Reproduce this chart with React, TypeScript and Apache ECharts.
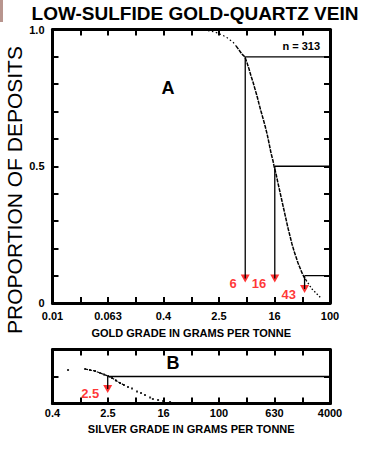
import { useEffect, useRef } from 'react';
import * as echarts from 'echarts';

// ---- data ----
const goldGrade = [
  1.34, 1.58, 1.86, 2.13, 2.43, 2.77, 3.17, 3.62, 4.0, 4.42, 4.88, 5.39, 5.96, 6.37, 6.8, 7.27,
  7.76, 8.3, 8.87, 9.48, 10.1, 10.8, 11.6, 12.4, 13.2, 14.1, 15.1, 15.6, 16.7, 17.8, 19.0, 20.3,
  21.7, 23.2, 24.8, 26.5, 28.3, 30.3, 32.4, 34.6, 37.0, 39.5, 42.2, 45.1, 48.2, 51.5, 55.1, 60.8,
  67.1, 74.1,
];
const goldProp = [
  0.999, 0.998, 0.995, 0.991, 0.987, 0.98, 0.973, 0.962, 0.954, 0.94, 0.925, 0.91, 0.899, 0.878,
  0.856, 0.83, 0.808, 0.782, 0.757, 0.728, 0.702, 0.676, 0.647, 0.618, 0.585, 0.549, 0.519, 0.501,
  0.471, 0.438, 0.406, 0.373, 0.34, 0.307, 0.274, 0.245, 0.216, 0.19, 0.168, 0.146, 0.128, 0.11,
  0.095, 0.084, 0.073, 0.062, 0.051, 0.04, 0.029, 0.018,
];
const silverGrade = [
  0.67, 1.18, 1.39, 1.64, 1.94, 2.21, 2.52, 2.88, 3.29, 3.76, 4.29, 4.9, 5.6, 6.61, 7.55, 8.61,
  10.2, 11.2, 13.3, 15.7, 19.8,
];
const silverProp = [
  0.62, 0.639, 0.62, 0.602, 0.565, 0.537, 0.509, 0.472, 0.426, 0.38, 0.343, 0.306, 0.278, 0.222,
  0.194, 0.157, 0.111, 0.083, 0.065, 0.046, 0.028,
];
const goldTickLabels = ['0.01', '0.063', '0.4', '2.5', '16', '100'];
const silverTickLabels = ['0.4', '2.5', '16', '100', '630', '4000'];
const goldPctGrade = [6, 16, 43];
const goldPctProp = [0.9, 0.5, 0.1];
const silverPctGrade = [2.5];
const silverPctProp = [0.5];
const nDeposits = 313;

// scale parameters
const GOLD_MIN = 0.01;
const SILVER_MIN = 0.4;
const DECADES = 4;

// layout: where the red arrow heads sit (proportion units)
const goldArrowEnd = [0.09, 0.09, 0.051];
const silverArrowEnd = [0.27];

const FONT = 'Liberation Sans, Arial, sans-serif';
const RED = '#ff0000';

function lx(v: number, min: number) {
  return Math.log10(v / min);
}

function xAxes(gridIndex: number, labels: string[], name: string, nameGap: number, margin: number) {
  const common = {
    type: 'value',
    gridIndex,
    min: 0,
    max: DECADES,
    interval: 0.4,
    splitLine: { show: false },
    axisLine: { onZero: false, lineStyle: { color: '#000', width: 3 } },
    axisTick: { inside: true, length: 6, lineStyle: { color: '#000', width: 2 } },
  };
  return [
    {
      ...common,
      position: 'bottom',
      name,
      nameLocation: 'middle',
      nameGap,
      nameTextStyle: { color: '#000', fontFamily: FONT, fontWeight: 'bold', fontSize: 11 },
      axisLabel: {
        margin,
        color: '#000',
        fontFamily: FONT,
        fontWeight: 'bold',
        fontSize: 11,
        formatter: (v: number) => {
          const k = Math.round(v / 0.4);
          return k % 2 === 0 ? labels[k / 2] ?? '' : '';
        },
      },
    },
    { ...common, position: 'top', axisLabel: { show: false } },
  ];
}

function yAxes(gridIndex: number, interval: number, showLabels: boolean) {
  const common = {
    type: 'value',
    gridIndex,
    min: 0,
    max: 1,
    interval,
    splitLine: { show: false },
    axisLine: { onZero: false, lineStyle: { color: '#000', width: 3 } },
    axisTick: { inside: true, length: 6, lineStyle: { color: '#000', width: 2 } },
  };
  return [
    {
      ...common,
      position: 'left',
      axisLabel: showLabels
        ? {
            margin: 8,
            color: '#000',
            fontFamily: FONT,
            fontWeight: 'bold',
            fontSize: 11,
            formatter: (v: number) =>
              Math.abs(v - 1) < 1e-6 ? '1.0' : Math.abs(v - 0.5) < 1e-6 ? '0.5' : Math.abs(v) < 1e-6 ? '0' : '',
          }
        : { show: false },
    },
    { ...common, position: 'right', axisLabel: { show: false } },
  ];
}

function markerSeries(
  grades: number[],
  props: number[],
  ends: number[],
  min: number,
  xi: number,
  yi: number,
) {
  const out: any[] = [];
  grades.forEach((g, i) => {
    const x = lx(g, min);
    const lineStyle = { color: '#000', width: 1.3 };
    out.push({
      type: 'line',
      xAxisIndex: xi,
      yAxisIndex: yi,
      data: [[x, props[i]], [DECADES, props[i]]],
      symbol: 'none',
      lineStyle,
    });
    out.push({
      type: 'line',
      xAxisIndex: xi,
      yAxisIndex: yi,
      data: [[x, props[i]], [x, ends[i]]],
      symbol: 'none',
      lineStyle,
    });
  });
  out.push({
    type: 'scatter',
    xAxisIndex: xi,
    yAxisIndex: yi,
    symbol: 'triangle',
    symbolRotate: 180,
    symbolSize: [9, 8],
    itemStyle: { color: RED },
    data: grades.map((g, i) => ({ value: [lx(g, min), ends[i]], name: String(g) })),
    label: {
      show: true,
      position: 'left',
      distance: 4,
      offset: [0, 5],
      formatter: (p: any) => p.name,
      color: RED,
      fontFamily: FONT,
      fontWeight: 'bold',
      fontSize: 13,
    },
  });
  return out;
}

export default function App() {
  const ref = useRef<HTMLDivElement>(null);
  useEffect(() => {
    if (!ref.current) return;
    const chart = echarts.init(ref.current, null, { renderer: 'svg' });
    const option: any = {
      animation: false,
      backgroundColor: '#fff',
      grid: [
        { left: 52.5, top: 29.5, width: 277.5, height: 273.5, outerBoundsMode: 'none' },
        { left: 52.5, top: 349.5, width: 277.5, height: 54, outerBoundsMode: 'none' },
      ],
      xAxis: [
        ...xAxes(0, goldTickLabels, 'GOLD GRADE IN GRAMS PER TONNE', 24, 7),
        ...xAxes(1, silverTickLabels, 'SILVER GRADE IN GRAMS PER TONNE', 20, 4),
      ],
      yAxis: [...yAxes(0, 0.1, true), ...yAxes(1, 0.5, false)],
      series: [
        {
          type: 'line',
          xAxisIndex: 0,
          yAxisIndex: 0,
          data: goldGrade.slice(0, 10).map((g, i) => [lx(g, GOLD_MIN), goldProp[i]]),
          symbol: 'none',
          lineStyle: { color: '#000', width: 1.2, type: [1.5, 2.5] },
        },
        {
          type: 'line',
          xAxisIndex: 0,
          yAxisIndex: 0,
          data: goldGrade.slice(9, 44).map((g, i) => [lx(g, GOLD_MIN), goldProp[i + 9]]),
          symbol: 'none',
          lineStyle: { color: '#000', width: 1.5, type: [4, 1] },
        },
        {
          type: 'line',
          xAxisIndex: 0,
          yAxisIndex: 0,
          data: goldGrade.slice(43).map((g, i) => [lx(g, GOLD_MIN), goldProp[i + 43]]),
          symbol: 'none',
          lineStyle: { color: '#000', width: 1.3, type: [1.5, 2] },
        },
        {
          type: 'scatter',
          xAxisIndex: 2,
          yAxisIndex: 2,
          data: silverGrade.map((g, i) => [lx(g, SILVER_MIN), silverProp[i]]),
          symbol: 'rect',
          symbolSize: 2,
          itemStyle: { color: '#000' },
        },
        {
          type: 'line',
          xAxisIndex: 2,
          yAxisIndex: 2,
          data: silverGrade.slice(1, 11).map((g, i) => [lx(g, SILVER_MIN), silverProp[i + 1]]),
          symbol: 'none',
          lineStyle: { color: '#000', width: 1.2, type: [3, 1] },
        },
        ...markerSeries(goldPctGrade, goldPctProp, goldArrowEnd, GOLD_MIN, 0, 0),
        ...markerSeries(silverPctGrade, silverPctProp, silverArrowEnd, SILVER_MIN, 2, 2),
      ],
      graphic: [
        { type: 'rect', shape: { x: 0, y: 0, width: 3, height: 22 }, style: { fill: '#b8958e' } },
        {
          type: 'text',
          x: 195,
          y: 13,
          style: {
            text: 'LOW-SULFIDE GOLD-QUARTZ VEIN',
            font: `bold 19px ${FONT}`,
            fill: '#000',
            align: 'center',
            verticalAlign: 'middle',
          },
        },
        {
          type: 'text',
          x: 14,
          y: 190,
          rotation: Math.PI / 2,
          style: {
            text: 'PROPORTION OF DEPOSITS',
            font: `21px ${FONT}`,
            fill: '#000',
            align: 'center',
            verticalAlign: 'middle',
          },
        },
        {
          type: 'text',
          x: 168,
          y: 88,
          style: { text: 'A', font: `bold 18px ${FONT}`, fill: '#000', align: 'center', verticalAlign: 'middle' },
        },
        {
          type: 'text',
          x: 173,
          y: 363,
          style: { text: 'B', font: `bold 18px ${FONT}`, fill: '#000', align: 'center', verticalAlign: 'middle' },
        },
        {
          type: 'text',
          x: 320,
          y: 46,
          style: {
            text: `n = ${nDeposits}`,
            font: `bold 11px ${FONT}`,
            fill: '#000',
            align: 'right',
            verticalAlign: 'middle',
          },
        },
      ],
    };
    chart.setOption(option);
    return () => chart.dispose();
  }, []);
  return (
    <div
      ref={ref}
      style={{ position: 'fixed', left: 0, top: 0, width: 387, height: 450, background: '#fff' }}
    />
  );
}
